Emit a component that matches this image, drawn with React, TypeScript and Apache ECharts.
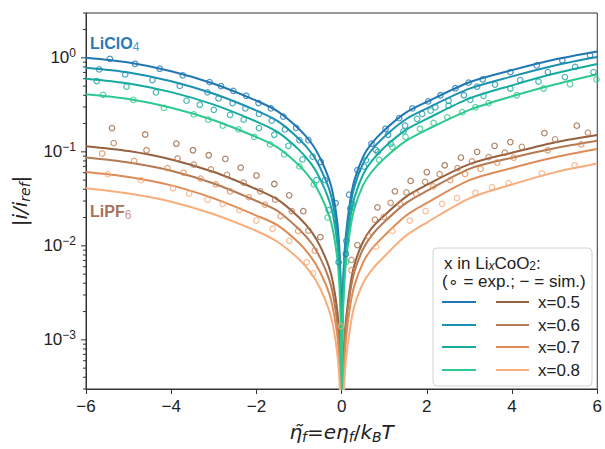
import React, { useEffect, useRef } from 'react';
import * as echarts from 'echarts';

// x values of the simulated curves (η̃f)
const simEta = [-6, -5, -4, -3, -2, -1.5, -1, -0.7, -0.5, -0.3, -0.2, -0.1, -0.05, -0.02, -0.005, 0, 0.005, 0.02, 0.05, 0.1, 0.2, 0.3, 0.5, 0.7, 1, 1.5, 2, 3, 4, 5, 6];

// simulated |i/iref| – LiClO4
const simClO4_05 = [1.0, 0.89, 0.72, 0.53, 0.35, 0.27, 0.175, 0.122, 0.085, 0.052, 0.035, 0.0175, 0.0088, 0.0035, 0.0009, 0.00005, 0.0006, 0.0025, 0.006, 0.013, 0.03, 0.05, 0.088, 0.122, 0.17, 0.26, 0.34, 0.55, 0.74, 0.96, 1.17];
const simClO4_06 = [0.785, 0.70, 0.565, 0.415, 0.275, 0.212, 0.137, 0.096, 0.067, 0.041, 0.0275, 0.0137, 0.0069, 0.0027, 0.0007, 0.00004, 0.0005, 0.0021, 0.0051, 0.011, 0.0255, 0.0425, 0.075, 0.104, 0.145, 0.221, 0.29, 0.47, 0.635, 0.83, 1.02];
const simClO4_07 = [0.60, 0.534, 0.432, 0.318, 0.21, 0.162, 0.105, 0.073, 0.051, 0.031, 0.021, 0.0105, 0.0053, 0.0021, 0.00054, 0.00003, 0.0004, 0.0016, 0.0039, 0.0085, 0.0195, 0.0325, 0.057, 0.079, 0.111, 0.17, 0.224, 0.37, 0.51, 0.68, 0.86];
const simClO4_08 = [0.41, 0.365, 0.295, 0.217, 0.1435, 0.111, 0.072, 0.050, 0.035, 0.0213, 0.0144, 0.0072, 0.0036, 0.0014, 0.00037, 0.00002, 0.0003, 0.00125, 0.003, 0.0065, 0.015, 0.025, 0.044, 0.061, 0.085, 0.13, 0.172, 0.28, 0.39, 0.52, 0.67];

// simulated |i/iref| – LiPF6
const simPF6_05 = [0.115, 0.102, 0.083, 0.061, 0.040, 0.031, 0.020, 0.014, 0.0098, 0.006, 0.004, 0.002, 0.001, 0.0004, 0.0001, 0.00001, 0.00008, 0.00031, 0.00075, 0.0016, 0.00375, 0.0063, 0.011, 0.0153, 0.021, 0.033, 0.0445, 0.074, 0.098, 0.126, 0.151];
const simPF6_06 = [0.087, 0.077, 0.063, 0.046, 0.030, 0.0235, 0.015, 0.0106, 0.0074, 0.0045, 0.003, 0.0015, 0.00077, 0.0003, 0.00008, 0.00001, 0.00006, 0.00026, 0.00063, 0.0014, 0.0032, 0.0053, 0.0092, 0.0128, 0.0179, 0.0283, 0.0384, 0.066, 0.0866, 0.109, 0.131];
const simPF6_07 = [0.061, 0.054, 0.044, 0.032, 0.021, 0.0165, 0.0107, 0.0074, 0.0052, 0.0032, 0.0021, 0.0011, 0.00054, 0.00021, 0.00005, 0.00001, 0.00005, 0.00019, 0.00045, 0.001, 0.0023, 0.0038, 0.0066, 0.0092, 0.0128, 0.0208, 0.0286, 0.05, 0.0673, 0.0874, 0.107];
const simPF6_08 = [0.041, 0.036, 0.0295, 0.0217, 0.0144, 0.011, 0.0072, 0.005, 0.0035, 0.0021, 0.0014, 0.0007, 0.00036, 0.00014, 0.00004, 0.00001, 0.00003, 0.00011, 0.00027, 0.0006, 0.00135, 0.0023, 0.004, 0.0055, 0.0077, 0.0127, 0.0177, 0.032, 0.045, 0.0605, 0.075];

// experimental points [η̃f, |i/iref|]
const expClO4_05 = [[-5.44, 0.976], [-4.85, 0.865], [-4.27, 0.766], [-3.73, 0.651], [-3.1, 0.553], [-2.83, 0.50], [-2.54, 0.445], [-2.24, 0.395], [-1.95, 0.33], [-1.66, 0.29], [-1.37, 0.237], [-1.07, 0.18], [-0.78, 0.133], [-0.49, 0.078], [-0.14, 0.0285], [0.1, 0.0082], [0.175, 0.035], [0.37, 0.064], [0.70, 0.122], [1.03, 0.176], [1.35, 0.228], [1.66, 0.29], [2.03, 0.344], [2.32, 0.40], [2.67, 0.475], [2.98, 0.545], [3.31, 0.59], [3.96, 0.705], [4.58, 0.83], [5.18, 0.94], [5.83, 1.06]];
const expClO4_06 = [[-5.69, 0.753], [-5.08, 0.667], [-4.44, 0.58], [-3.80, 0.503], [-3.15, 0.43], [-2.89, 0.37], [-2.56, 0.33], [-2.26, 0.29], [-1.94, 0.253], [-1.64, 0.215], [-1.33, 0.173], [-0.99, 0.133], [-0.68, 0.089], [-0.39, 0.05], [-0.07, 0.0067], [0.11, 0.0113], [0.25, 0.028], [0.53, 0.0695], [0.8, 0.105], [1.09, 0.152], [1.49, 0.19], [1.89, 0.253], [2.2, 0.298], [2.51, 0.349], [2.87, 0.40], [3.18, 0.495], [3.6, 0.52], [4.19, 0.58], [4.84, 0.705], [5.48, 0.80]];
const expClO4_07 = [[-5.75, 0.567], [-5.05, 0.495], [-4.36, 0.43], [-3.64, 0.35], [-3.33, 0.317], [-3.0, 0.28], [-2.62, 0.247], [-2.3, 0.22], [-1.94, 0.179], [-1.58, 0.152], [-1.25, 0.116], [-0.92, 0.083], [-0.59, 0.05], [-0.3, 0.024], [0.2, 0.025], [0.57, 0.0816], [0.85, 0.1], [1.15, 0.122], [1.45, 0.165], [1.77, 0.224], [2.09, 0.274], [2.51, 0.31], [3.02, 0.358], [3.33, 0.394], [3.96, 0.472], [4.62, 0.559], [5.24, 0.625], [5.91, 0.705]];
const expClO4_08 = [[-5.6, 0.404], [-4.89, 0.358], [-4.17, 0.293], [-3.47, 0.25], [-3.13, 0.22], [-2.79, 0.19], [-2.42, 0.173], [-2.05, 0.144], [-1.68, 0.12], [-1.35, 0.094], [-0.99, 0.07], [-0.65, 0.045], [-0.33, 0.02], [0.1, 0.0067], [0.88, 0.082], [1.19, 0.113], [1.5, 0.144], [1.84, 0.176], [2.16, 0.203], [2.48, 0.233], [2.83, 0.264], [3.14, 0.298], [3.45, 0.33], [4.11, 0.40], [4.74, 0.472], [5.36, 0.524], [5.98, 0.59]];
const expPF6_05 = [[-5.39, 0.179], [-4.61, 0.153], [-3.88, 0.122], [-3.49, 0.104], [-3.12, 0.092], [-2.73, 0.084], [-2.37, 0.068], [-2.0, 0.056], [-1.58, 0.0455], [-1.23, 0.0345], [-0.9, 0.0234], [-0.5, 0.0124], [0.37, 0.0102], [0.84, 0.0257], [1.25, 0.038], [1.62, 0.049], [2.0, 0.0607], [2.42, 0.072], [2.8, 0.087], [3.18, 0.1], [3.59, 0.116], [3.96, 0.127], [4.76, 0.158], [5.52, 0.19]];
const expPF6_06 = [[-5.35, 0.124], [-4.58, 0.104], [-3.85, 0.085], [-3.47, 0.073], [-3.07, 0.065], [-2.69, 0.057], [-2.3, 0.047], [-1.91, 0.038], [-1.56, 0.031], [-1.17, 0.0234], [-0.78, 0.0145], [0.23, 0.0071], [0.78, 0.019], [1.15, 0.0286], [1.52, 0.037], [1.96, 0.048], [2.3, 0.058], [2.72, 0.067], [3.06, 0.079], [3.45, 0.088], [3.83, 0.098], [4.23, 0.113], [5.01, 0.136], [5.78, 0.16]];
const expPF6_07 = [[-5.62, 0.096], [-4.87, 0.080], [-4.09, 0.067], [-3.71, 0.060], [-3.31, 0.052], [-2.95, 0.045], [-2.62, 0.038], [-2.18, 0.033], [-1.8, 0.0275], [-1.43, 0.0207], [-1.02, 0.0144], [-0.63, 0.0089], [0.23, 0.0055], [0.63, 0.0127], [0.99, 0.0203], [1.37, 0.028], [1.75, 0.0355], [2.15, 0.043], [2.55, 0.05], [2.9, 0.058], [3.26, 0.066], [3.65, 0.077], [4.04, 0.087], [4.84, 0.104], [5.62, 0.12]];
const expPF6_08 = [[-5.49, 0.058], [-4.71, 0.050], [-3.96, 0.041], [-3.58, 0.036], [-3.15, 0.031], [-2.79, 0.028], [-2.4, 0.024], [-2.0, 0.0186], [-1.62, 0.0152], [-1.23, 0.0113], [-0.82, 0.0067], [-0.67, 0.0051], [-0.02, 0.0014], [0.81, 0.0098], [1.19, 0.0144], [1.6, 0.0186], [1.97, 0.0234], [2.36, 0.028], [2.71, 0.0322], [3.14, 0.0365], [3.53, 0.0418], [3.92, 0.0464], [4.7, 0.059], [5.47, 0.072]];

const compositions = ['x=0.5', 'x=0.6', 'x=0.7', 'x=0.8'];
const clo4Colors = ['#1f77b4', '#1b92b0', '#17ab9f', '#2ec98f'];
const pf6Colors = ['#95613f', '#b47a54', '#dd8c58', '#f7ad7c'];

const xTicks = [-6, -4, -2, 0, 2, 4, 6];
const yMajorTicks = [1e-3, 1e-2, 1e-1, 1];
const yMin = 3e-4;
const yMax = 3;

const FONT = 'Liberation Sans, Arial, sans-serif';
const MATH = 'DejaVu Sans, sans-serif';

export default function App() {
  const ref = useRef<HTMLDivElement>(null);
  useEffect(() => {
    if (!ref.current) return;
    const chart = echarts.init(ref.current, undefined, { renderer: 'svg' });

    const simC = [simClO4_05, simClO4_06, simClO4_07, simClO4_08];
    const simP = [simPF6_05, simPF6_06, simPF6_07, simPF6_08];
    const expC = [expClO4_05, expClO4_06, expClO4_07, expClO4_08];
    const expP = [expPF6_05, expPF6_06, expPF6_07, expPF6_08];

    const series: any[] = [];
    const lineSeries = (name: string, vals: number[], color: string) => ({
      type: 'line',
      name,
      data: simEta.map((e, i) => [e, vals[i]]),
      showSymbol: false,
      symbol: 'none',
      smooth: 0.3,
      clip: true,
      lineStyle: { color, width: 2 },
      itemStyle: { color },
      z: 2,
    });
    const pointSeries = (name: string, pts: number[][], color: string) => ({
      type: 'scatter',
      name,
      data: pts,
      symbol: 'circle',
      symbolSize: 5.5,
      clip: true,
      itemStyle: { color: 'rgba(255,255,255,0)', borderColor: color, borderWidth: 1.2 },
      z: 3,
    });
    for (let k = 0; k < 4; k++) {
      series.push(lineSeries('LiClO4 sim ' + compositions[k], simC[k], clo4Colors[k]));
      series.push(lineSeries('LiPF6 sim ' + compositions[k], simP[k], pf6Colors[k]));
    }
    for (let k = 0; k < 4; k++) {
      series.push(pointSeries('LiClO4 exp ' + compositions[k], expC[k], clo4Colors[k]));
      series.push(pointSeries('LiPF6 exp ' + compositions[k], expP[k], pf6Colors[k]));
    }

    // y-axis ticks (major + minor) drawn through the log axis scale
    const tickData: number[][] = [];
    for (let e = -4; e <= 0; e++) {
      for (let m = 1; m <= 9; m++) {
        const v = m * Math.pow(10, e);
        if (v >= yMin * 0.999 && v <= yMax * 1.001) tickData.push([-6, v, m === 1 ? 5 : 3]);
      }
    }
    series.push({
      type: 'custom',
      name: 'yticks',
      silent: true,
      clip: false,
      data: tickData,
      encode: { x: 0, y: 1 },
      renderItem: (params: any, api: any) => {
        const p = api.coord([api.value(0), api.value(1)]);
        const len = api.value(2);
        return {
          type: 'line',
          shape: { x1: p[0] - len, y1: p[1], x2: p[0], y2: p[1] },
          style: { stroke: '#333', lineWidth: 1 },
        };
      },
      z: 5,
    });

    const legendX = 433, legendY = 248;
    const rowY = [302, 325, 347, 370];
    const graphics: any[] = [
      {
        type: 'rect',
        shape: { x: legendX, y: legendY, width: 159, height: 138, r: 4 },
        style: { fill: 'rgba(255,255,255,0.85)', stroke: '#d2d2d2', lineWidth: 1 },
        z: 10,
      },
      {
        type: 'text',
        x: 444, y: 263,
        style: {
          text: 'x in Li{sx|x}CoO{s|2}:',
          fontFamily: FONT, fontSize: 17, fill: '#222', verticalAlign: 'middle',
          rich: {
            sx: { fontFamily: FONT, fontStyle: 'italic', fontSize: 12, fill: '#222', verticalAlign: 'bottom', lineHeight: 8 },
            s: { fontFamily: FONT, fontSize: 12, fill: '#222', verticalAlign: 'bottom', lineHeight: 8 },
          },
        },
        z: 11,
      },
      {
        type: 'text',
        x: 442, y: 281,
        style: { text: '(∘ = exp.; − = sim.)', fontFamily: FONT, fontSize: 17, fill: '#222', verticalAlign: 'middle' },
        z: 11,
      },
      {
        type: 'text',
        x: 90, y: 43,
        style: {
          text: '{b|LiClO}{s|4}',
          verticalAlign: 'middle',
          rich: {
            b: { fontFamily: FONT, fontWeight: 'bold', fontSize: 16, fill: '#2a79b5', lineHeight: 20 },
            s: { fontFamily: FONT, fontSize: 12, fill: '#4c9bd0', verticalAlign: 'bottom', lineHeight: 9 },
          },
        },
        z: 11,
      },
      {
        type: 'text',
        x: 90, y: 211,
        style: {
          text: '{b|LiPF}{s|6}',
          verticalAlign: 'middle',
          rich: {
            b: { fontFamily: FONT, fontWeight: 'bold', fontSize: 16, fill: '#a5735a', lineHeight: 20 },
            s: { fontFamily: FONT, fontSize: 12, fill: '#cf9585', verticalAlign: 'bottom', lineHeight: 9 },
          },
        },
        z: 11,
      },
    ];
    for (let k = 0; k < 4; k++) {
      graphics.push({
        type: 'line', shape: { x1: 442, y1: rowY[k], x2: 476, y2: rowY[k] },
        style: { stroke: clo4Colors[k], lineWidth: 2 }, z: 11,
      });
      graphics.push({
        type: 'line', shape: { x1: 496, y1: rowY[k], x2: 529, y2: rowY[k] },
        style: { stroke: pf6Colors[k], lineWidth: 2 }, z: 11,
      });
      graphics.push({
        type: 'text', x: 538, y: rowY[k],
        style: { text: compositions[k], fontFamily: FONT, fontSize: 17, fill: '#222', verticalAlign: 'middle' },
        z: 11,
      });
    }

    const option: any = {
      animation: false,
      backgroundColor: '#ffffff',
      grid: { left: 86, right: 6, top: 13, bottom: 56, show: true, borderColor: '#333', borderWidth: 1, backgroundColor: 'transparent' },
      xAxis: {
        type: 'value',
        min: -6,
        max: 6,
        interval: 2,
        name: '{i|η̃}{s|f}{n|=}{i|eη}{s|f}{n|/}{i|k}{s|B}{i|T}',
        nameLocation: 'middle',
        nameGap: 31,
        nameTextStyle: {
          rich: {
            i: { fontFamily: MATH, fontStyle: 'italic', fontSize: 20, color: '#222', lineHeight: 24 },
            n: { fontFamily: MATH, fontSize: 20, color: '#222', lineHeight: 24 },
            s: { fontFamily: MATH, fontStyle: 'italic', fontSize: 14, color: '#222', verticalAlign: 'bottom', lineHeight: 12 },
          },
        },
        axisLine: { show: true, onZero: false, lineStyle: { color: '#333', width: 1 } },
        axisTick: { show: true, length: 5, lineStyle: { color: '#333', width: 1 } },
        axisLabel: {
          fontFamily: FONT, fontSize: 17, color: '#222', margin: 9,
          formatter: (v: number) => (xTicks.includes(v) ? String(v).replace('-', '−') : ''),
        },
        splitLine: { show: false },
      },
      yAxis: {
        type: 'log',
        logBase: 10,
        min: yMin,
        max: yMax,
        name: '{i|\u007Ci/i}{s|ref}{i|\u007C}',
        nameLocation: 'middle',
        nameRotate: 90,
        nameGap: 54,
        nameTextStyle: {
          rich: {
            i: { fontFamily: MATH, fontStyle: 'italic', fontSize: 20, color: '#222', lineHeight: 24 },
            s: { fontFamily: MATH, fontStyle: 'italic', fontSize: 14, color: '#222', verticalAlign: 'bottom', lineHeight: 12 },
          },
        },
        axisLine: { show: true, onZero: false, lineStyle: { color: '#333', width: 1 } },
        axisTick: { show: false },
        minorTick: { show: false },
        splitLine: { show: false },
        axisLabel: {
          margin: 10,
          showMinLabel: false,
          showMaxLabel: false,
          formatter: (v: number) => {
            const e = Math.log10(v);
            const r = Math.round(e);
            if (Math.abs(e - r) > 0.01 || !yMajorTicks.some((t) => Math.abs(Math.log10(t) - r) < 0.01)) return '';
            return '{b|10}{s|' + (r < 0 ? '−' + -r : String(r)) + '}';
          },
          rich: {
            b: { fontFamily: FONT, fontSize: 17, color: '#222', lineHeight: 22 },
            s: { fontFamily: FONT, fontSize: 12, color: '#222', verticalAlign: 'top', lineHeight: 10 },
          },
        },
      },
      graphic: graphics,
      series,
    };
    chart.setOption(option);
    return () => chart.dispose();
  }, []);
  return <div ref={ref} style={{ position: 'absolute', left: 0, top: 0, width: 605, height: 449 }} />;
}
